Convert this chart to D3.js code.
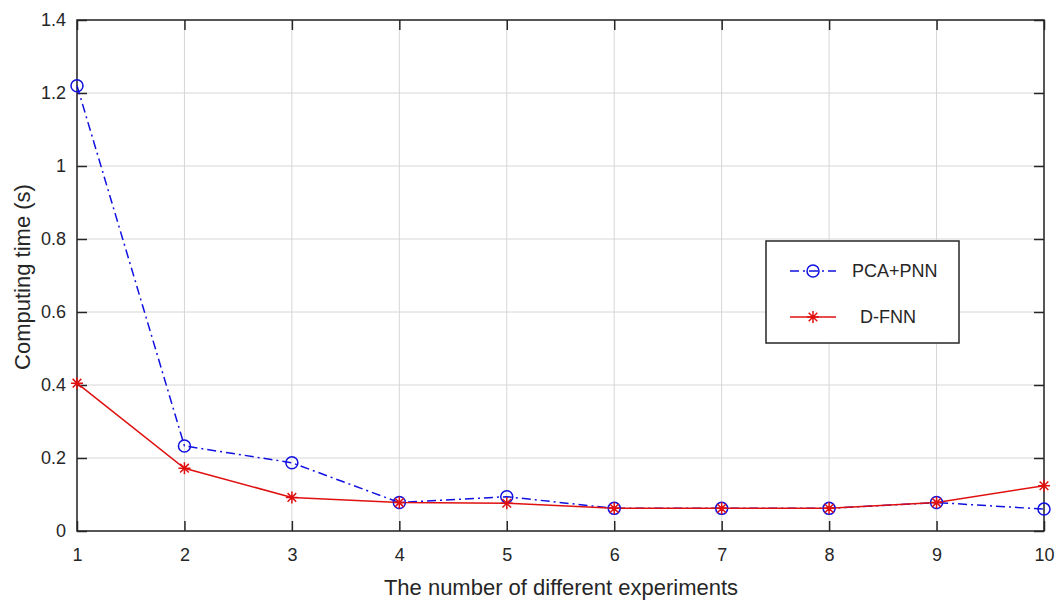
<!DOCTYPE html>
<html>
<head>
<meta charset="utf-8">
<script src="https://cdn.jsdelivr.net/npm/d3@7"></script>
<style>
  body { margin: 0; background: #fff; }
  text { font-family: "Liberation Sans", Arial, sans-serif; fill: #262626; }
</style>
</head>
<body>
<div id="chart"></div>
<script>
// data
var experiments = [1, 2, 3, 4, 5, 6, 7, 8, 9, 10];
var pcaPnn = [1.22, 0.233, 0.187, 0.078, 0.094, 0.062, 0.062, 0.062, 0.078, 0.060];
var dFnn   = [0.405, 0.172, 0.092, 0.078, 0.076, 0.062, 0.062, 0.062, 0.078, 0.124];
var yTicks = [0, 0.2, 0.4, 0.6, 0.8, 1, 1.2, 1.4];
var seriesNames = ["PCA+PNN", "D-FNN"];

var W = 1056, H = 600;
var margin = { top: 20, right: 12, bottom: 69, left: 77 };
var width = W - margin.left - margin.right,
    height = H - margin.top - margin.bottom;

var svg = d3.select("#chart").append("svg")
  .attr("width", W).attr("height", H);
var g = svg.append("g")
  .attr("transform", "translate(" + margin.left + "," + margin.top + ")");

var x = d3.scaleLinear().domain([1, 10]).range([0, width]);
var y = d3.scaleLinear().domain([0, 1.4]).range([height, 0]);

// grid
g.append("g").selectAll("line.vg").data(experiments).enter().append("line")
  .attr("x1", d => x(d)).attr("x2", d => x(d))
  .attr("y1", 0).attr("y2", height)
  .attr("stroke", "#d6d6d6").attr("stroke-width", 1);
g.append("g").selectAll("line.hg").data(yTicks).enter().append("line")
  .attr("x1", 0).attr("x2", width)
  .attr("y1", d => y(d)).attr("y2", d => y(d))
  .attr("stroke", "#d6d6d6").attr("stroke-width", 1);

// axes with inward ticks
function styleAxis(sel) {
  sel.select(".domain").remove();
  sel.selectAll(".tick line").attr("stroke", "#262626").attr("stroke-width", 1.5);
  sel.selectAll(".tick text").style("font-size", "18px").attr("fill", "#262626");
}
var fmt = d => String(+d.toFixed(1));
g.append("g").attr("transform", "translate(0," + height + ")")
  .call(d3.axisBottom(x).tickValues(experiments).tickSizeInner(-10).tickSizeOuter(0).tickPadding(17).tickFormat(d3.format("d")))
  .call(styleAxis);
g.append("g")
  .call(d3.axisTop(x).tickValues(experiments).tickSizeInner(-10).tickSizeOuter(0).tickFormat(""))
  .call(styleAxis);
g.append("g")
  .call(d3.axisLeft(y).tickValues(yTicks).tickSizeInner(-10).tickSizeOuter(0).tickPadding(11).tickFormat(fmt))
  .call(styleAxis);
g.append("g").attr("transform", "translate(" + width + ",0)")
  .call(d3.axisRight(y).tickValues(yTicks).tickSizeInner(-10).tickSizeOuter(0).tickFormat(""))
  .call(styleAxis);

// frame
g.append("rect").attr("width", width).attr("height", height)
  .attr("fill", "none").attr("stroke", "#262626").attr("stroke-width", 1.5);

// lines
var line = d3.line().x((d, i) => x(experiments[i])).y(d => y(d));
g.append("path").datum(pcaPnn).attr("d", line)
  .attr("fill", "none").attr("stroke", "#1010e0").attr("stroke-width", 1.5)
  .attr("stroke-dasharray", "9,4,2,4");
g.append("path").datum(dFnn).attr("d", line)
  .attr("fill", "none").attr("stroke", "#e01010").attr("stroke-width", 1.5);

// markers
function circleMarker(sel) {
  sel.append("circle").attr("r", 6).attr("fill", "none")
    .attr("stroke", "#1010e0").attr("stroke-width", 1.5);
}
function starMarker(sel) {
  var s = 6, d = s * 0.72;
  var p = "M" + (-s) + ",0L" + s + ",0M0," + (-s) + "L0," + s +
          "M" + (-d) + "," + (-d) + "L" + d + "," + d +
          "M" + (-d) + "," + d + "L" + d + "," + (-d);
  sel.append("path").attr("d", p).attr("stroke", "#e01010").attr("stroke-width", 1.5).attr("fill", "none");
}
g.append("g").selectAll("g").data(pcaPnn).enter().append("g")
  .attr("transform", (d, i) => "translate(" + x(experiments[i]) + "," + y(d) + ")")
  .call(circleMarker);
g.append("g").selectAll("g").data(dFnn).enter().append("g")
  .attr("transform", (d, i) => "translate(" + x(experiments[i]) + "," + y(d) + ")")
  .call(starMarker);

// axis labels
svg.append("text").attr("x", 561).attr("y", 595)
  .attr("text-anchor", "middle").style("font-size", "22px")
  .text("The number of different experiments");
svg.append("text").attr("transform", "translate(30,277) rotate(-90)")
  .attr("text-anchor", "middle").style("font-size", "22px")
  .text("Computing time (s)");

// legend
var legend = svg.append("g").attr("transform", "translate(766,241)");
legend.append("rect").attr("width", 193).attr("height", 102)
  .attr("fill", "#fff").attr("stroke", "#262626").attr("stroke-width", 1.5);
var legRows = [
  { name: seriesNames[0], y: 30, dash: "9,4,2,4", color: "#1010e0", marker: circleMarker, tx: 86 },
  { name: seriesNames[1], y: 76, dash: null, color: "#e01010", marker: starMarker, tx: 94 }
];
legRows.forEach(function (r) {
  legend.append("line").attr("x1", 24).attr("x2", 70).attr("y1", r.y).attr("y2", r.y)
    .attr("stroke", r.color).attr("stroke-width", 1.5)
    .attr("stroke-dasharray", r.dash);
  legend.append("g").attr("transform", "translate(47," + r.y + ")").call(r.marker);
  legend.append("text").attr("x", r.tx).attr("y", r.y + 6)
    .style("font-size", "18px").text(r.name);
});
</script>
</body>
</html>
